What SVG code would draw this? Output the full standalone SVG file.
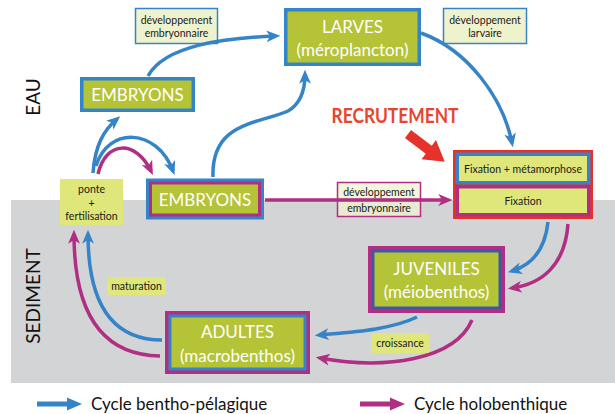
<svg xmlns="http://www.w3.org/2000/svg" width="615" height="414" viewBox="0 0 615 414">
<style>
.big{font-family:Lato,"Open Sans","DejaVu Sans",sans-serif;font-size:17px;fill:#ffffff;text-anchor:middle}
.small{font-family:Lato,"Open Sans","DejaVu Sans",sans-serif;font-size:10.5px;fill:#1a1a1a;text-anchor:middle}
.side{font-family:Lato,"Open Sans","DejaVu Sans",sans-serif;font-size:19px;fill:#111;text-anchor:middle}
.leg{font-family:Lato,"Open Sans","DejaVu Sans",sans-serif;font-size:17px;fill:#111}
.olive{fill:#b5c336}
.bl{fill:none;stroke:#3584c7;stroke-width:3.5}
.mg{fill:none;stroke:#b02f83;stroke-width:3.5}
.tag{fill:#dfe67a}
.pale{fill:#eff3cd;stroke-width:1.5}
</style>
<defs>
<marker id="ab" markerUnits="userSpaceOnUse" markerWidth="14" markerHeight="12" viewBox="0 0 13 11" refX="9" refY="5.5" orient="auto"><path d="M0,0 L13,5.5 L0,11 L3.5,5.5 z" fill="#3584c7"/></marker>
<marker id="am" markerUnits="userSpaceOnUse" markerWidth="14" markerHeight="12" viewBox="0 0 13 11" refX="9" refY="5.5" orient="auto"><path d="M0,0 L13,5.5 L0,11 L3.5,5.5 z" fill="#b02f83"/></marker>
</defs>
<rect x="0" y="0" width="615" height="414" fill="#ffffff"/>
<rect id="sediment-band" x="11" y="200" width="604" height="183" fill="#d3d4d6"/>
<text class="side" transform="translate(40,97) rotate(-90)">EAU</text>
<text class="side" transform="translate(40,296) rotate(-90)">SEDIMENT</text>

<g id="label-dev-emb-top"><rect class="pale" x="135.5" y="8.5" width="82" height="35" stroke="#3584c7"/><text class="small" x="176.5" y="24">développement</text><text class="small" x="176.5" y="37">embryonnaire</text></g>
<g id="label-dev-larv"><rect class="pale" x="443.5" y="8.5" width="83" height="35" stroke="#3584c7"/><text class="small" x="485" y="24">développement</text><text class="small" x="485" y="37">larvaire</text></g>

<g id="connectors">
<path class="bl" d="M148,76 C165,45 225,38 276,36" marker-end="url(#ab)"/>
<path class="bl" d="M93,173 C95,145 104,130 117,119" marker-end="url(#ab)"/>
<path class="bl" d="M96,166 C108,126 157,128 173,171" marker-end="url(#ab)"/>
<path class="mg" d="M98,174 C106,140 136,140 151,171" marker-end="url(#am)"/>
<path class="bl" d="M213,177 C211,122 258,124 288,111 C302,103 305,88 305,74" marker-end="url(#ab)"/>
<path class="bl" d="M421,33 C468,50 503,98 512,143" marker-end="url(#ab)"/>
<path class="mg" d="M265,200 L448,200" marker-end="url(#am)"/>
<path class="bl" d="M548,222 C545,250 532,265 512,271" marker-end="url(#ab)"/>
<path class="mg" d="M568,224 C565,265 542,284 512,288" marker-end="url(#am)"/>
<path class="bl" d="M417,317 C390,330 352,332 319,335" marker-end="url(#ab)"/>
<path class="mg" d="M472,320 C455,360 385,370 320,358" marker-end="url(#am)"/>
<path class="bl" d="M162,340 C110,340 88,300 88,234" marker-end="url(#ab)"/>
<path class="mg" d="M160,356 C100,355 74,310 74,234" marker-end="url(#am)"/>
</g>

<g id="label-dev-emb-mid"><rect x="337.5" y="182.5" width="83" height="34" fill="#eff3cd" fill-opacity="0.75" stroke="#b02f83" stroke-width="1.5"/><path d="M337,200 L421,200" stroke="#b02f83" stroke-width="3.5"/><text class="small" x="379" y="196">développement</text><text class="small" x="379" y="212">embryonnaire</text></g>

<g id="embryons-eau"><rect class="olive" x="81.75" y="78.75" width="111.5" height="31.5" stroke="#3584c7" stroke-width="3.5"/><text class="big" x="137.5" y="101" font-size="18">EMBRYONS</text></g>
<g id="larves"><rect class="olive" x="285.75" y="9.75" width="133.5" height="54.5" stroke="#3584c7" stroke-width="3.5"/><text class="big" x="352.5" y="33">LARVES</text><text class="big" x="352.5" y="56">(méroplancton)</text></g>

<g id="embryons-sed"><rect x="146" y="178.5" width="118" height="41" fill="#3584c7"/><rect x="149" y="181.5" width="112" height="35" fill="#b02f83"/><rect class="olive" x="152" y="184.5" width="106" height="29"/><text class="big" x="205" y="206" font-size="18">EMBRYONS</text></g>

<g id="ponte"><rect class="tag" x="60" y="179" width="63" height="46"/><text class="small" x="91.5" y="193">ponte</text><text class="small" x="91.5" y="207">+</text><text class="small" x="91.5" y="220">fertilisation</text></g>
<g id="maturation"><rect class="tag" x="107" y="277" width="59" height="18"/><text class="small" x="136.5" y="290">maturation</text></g>
<g id="croissance"><rect class="tag" x="371" y="333" width="58" height="20"/><text class="small" x="400" y="347">croissance</text></g>

<g id="recrutement"><text x="395" y="123" font-family="Lato,'Open Sans',sans-serif" font-size="20" font-weight="bold" fill="#e8452f" text-anchor="middle" textLength="127" lengthAdjust="spacingAndGlyphs">RECRUTEMENT</text>
<polygon transform="translate(408,134) rotate(37)" points="0,-5 26,-5 26,-12 46,0 26,12 26,5 0,5" fill="#e6332a"/></g>

<g id="fixation"><rect x="453" y="150" width="140" height="69" fill="#e6332a"/><rect x="455.5" y="152.5" width="135" height="32" fill="#3584c7"/><rect x="459" y="156" width="128" height="25" fill="#dfe67a"/><text class="small" x="523" y="173">Fixation + métamorphose</text><rect x="455.5" y="185" width="135" height="31.5" fill="#b02f83"/><rect x="459" y="188.5" width="128" height="24.5" fill="#dfe67a"/><text class="small" x="523" y="205">Fixation</text></g>

<g id="juveniles"><rect x="368" y="246" width="137" height="67" fill="#b02f83"/><rect x="371.5" y="249.5" width="130" height="60" fill="#3d58a5"/><rect class="olive" x="374.5" y="252.5" width="124" height="54"/><text class="big" x="436.5" y="275">JUVENILES</text><text class="big" x="436.5" y="298">(méiobenthos)</text></g>

<g id="adultes"><rect x="165" y="311" width="145" height="63" fill="#b02f83"/><rect x="168.5" y="314.5" width="138" height="56" fill="#3584c7"/><rect class="olive" x="171.5" y="317.5" width="132" height="50"/><text class="big" x="237.5" y="338">ADULTES</text><text class="big" x="237.5" y="362">(macrobenthos)</text></g>

<g id="legend">
<path d="M37,404 L68,404" stroke="#3584c7" stroke-width="5"/><polygon points="67,397.5 82,404 67,410.5" fill="#3584c7"/>
<text class="leg" x="91" y="410">Cycle bentho-pélagique</text>
<path d="M360,404 L391,404" stroke="#b02f83" stroke-width="5"/><polygon points="390,397.5 405,404 390,410.5" fill="#b02f83"/>
<text class="leg" x="414" y="410">Cycle holobenthique</text>
</g>
</svg>
